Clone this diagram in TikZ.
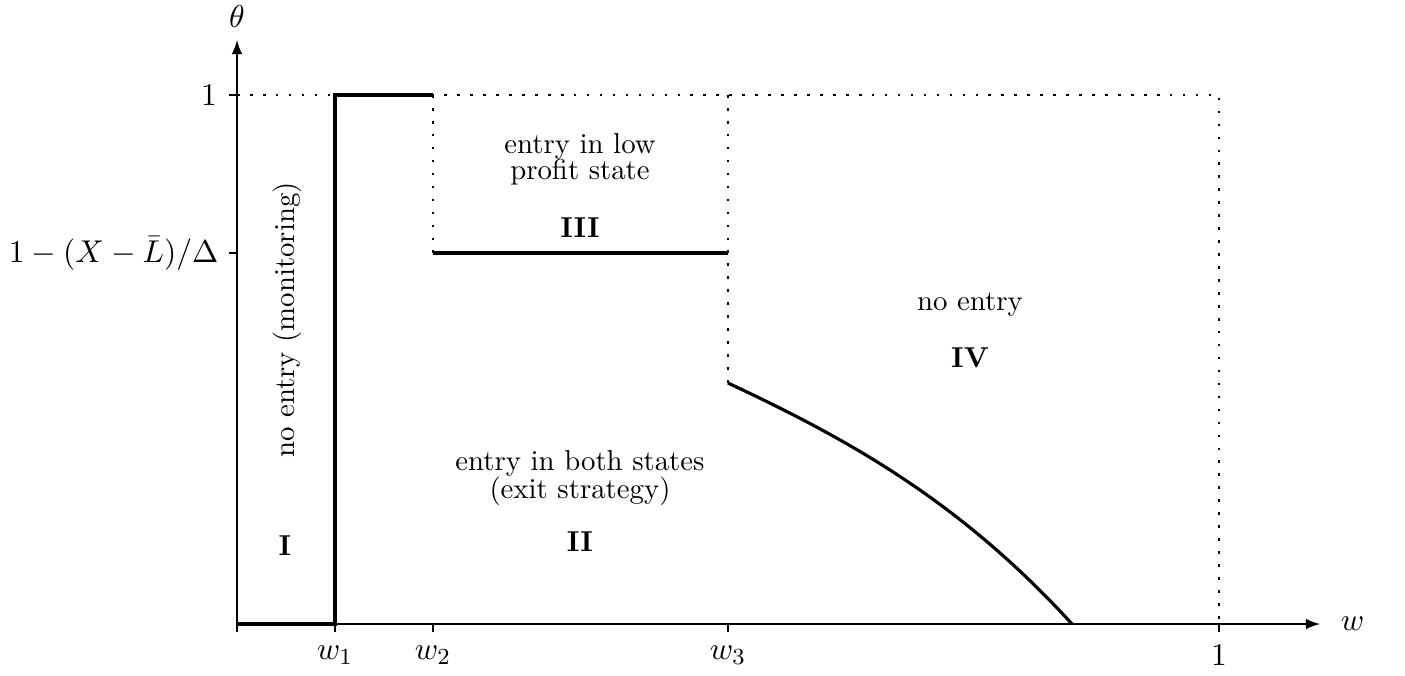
\documentclass[tikz,border=0pt]{standalone}
\usetikzlibrary{positioning}
\begin{document}
\begin{tikzpicture}[x=0.0122cm,y=0.0122cm,
    axis/.style={line width=0.7pt},
    bound/.style={line width=1.1pt},
    guide/.style={line width=0.9pt,dash pattern=on 0.9pt off 3.6pt},
    ticklbl/.style={font=\fontsize{11}{13}\selectfont,inner sep=2pt},
    region/.style={align=center,inner sep=1pt}]
    \useasboundingbox (0,0) rectangle (1405,675);
    % axes
    \coordinate (O) at (237,51);
    \draw[axis,-latex] (O) -- (1320,51) coordinate (xend);
    \draw[axis,-latex] (O) -- (237,635) coordinate (yend);
    \node[ticklbl,right=5pt of xend] (wlab) {$w$};
    \node[ticklbl,above=2pt of yend] (thlab) {$\theta$};
    % ticks on w axis
    \coordinate (t0) at (237,51);
    \draw[axis] (t0) -- ++(0,-8);
    \foreach \x/\n/\t in {335/1/$w_1$,433/2/$w_2$,728/3/$w_3$,1219/4/$1$}{
        \coordinate (t\n) at (\x,51);
        \draw[axis] (t\n) -- ++(0,-8);
        \node[ticklbl] (tl\n) at (\x,20) {\t};
    }
    % ticks on theta axis
    \coordinate (top) at (237,580);
    \coordinate (mid) at (237,422);
    \draw[axis] (top) -- ++(-8,0) coordinate (topend);
    \draw[axis] (mid) -- ++(-8,0) coordinate (midend);
    \node[ticklbl,left=2pt of topend] (toplab) {$1$};
    \node[ticklbl,left=1.5pt of midend] (midlab) {$1-(X-\bar{L})/\Delta$};
    % dotted guides
    \coordinate (c1) at (1219,580);
    \coordinate (s2) at (433,422);
    \coordinate (s3) at (728,292);
    \draw[guide] (top) -- (c1) -- (t4);
    \draw[guide] (433,580) -- (s2);
    \draw[guide] (728,580) -- (s3);
    % region boundaries
    \draw[bound] (O) -- (t1) -- (335,580) -- (433,580);
    \draw[bound] (s2) -- (728,422);
    \draw[bound] (s3) .. controls (843,238) and (957,177) .. (1072,51);
    % region labels
    \node[region,rotate=90] (r1) at (287,355) {no entry (monitoring)};
    \node[region] (n1) at (285,129) {\textbf{I}};
    \node[region] (r3) at (580,516) {entry in low\\[-3pt]profit state};
    \node[region] (n3) at (580,447) {\textbf{III}};
    \node[region] (r2) at (580,197) {entry in both states\\[-2pt](exit strategy)};
    \node[region] (n2) at (580,133) {\textbf{II}};
    \node[region] (r4) at (970,370) {no entry};
    \node[region] (n4) at (970,317) {\textbf{IV}};
\end{tikzpicture}
\end{document}
